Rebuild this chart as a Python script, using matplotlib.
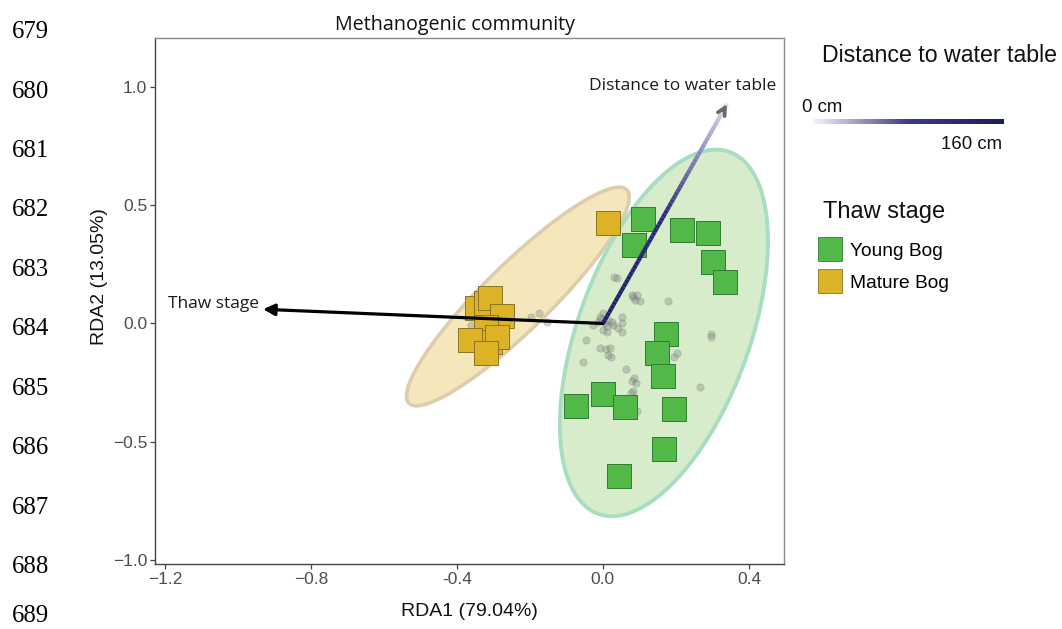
import numpy as np
import matplotlib
matplotlib.use("Agg")
import matplotlib.pyplot as plt
from matplotlib.collections import LineCollection
from matplotlib.colors import LinearSegmentedColormap
from matplotlib.lines import Line2D

# ---------------- data ----------------
young_x = [0.110, 0.085, 0.216, 0.288, 0.301, 0.334, 0.172, 0.148, 0.165,
           0.000, -0.074, 0.061, 0.196, 0.166, 0.045]
young_y = [0.442, 0.332, 0.395, 0.383, 0.260, 0.175, -0.044, -0.125, -0.222,
           -0.298, -0.349, -0.353, -0.361, -0.532, -0.644]

mature_x = [0.013, -0.346, -0.319, -0.308, -0.276, -0.319, -0.310, -0.364, -0.289, -0.321]
mature_y = [0.425, 0.067, 0.088, 0.107, 0.033, -0.013, -0.077, -0.070, -0.058, -0.123]

species_x = [0.030, 0.039, 0.079, 0.094, 0.088, 0.101, 0.083, 0.179, 0.295, 0.295,
             -0.008, 0.001, -0.013, 0.005, 0.015, 0.024, 0.051, 0.051, 0.042, 0.051,
             0.001, 0.010, 0.028, -0.027, -0.047, -0.008, 0.008, 0.019, 0.015, 0.022,
             -0.054, 0.202, 0.195, 0.062, 0.079, 0.090, 0.085, 0.083, 0.076, 0.266,
             0.094, -0.197, -0.175, -0.154, -0.362, -0.005, 0.012]
species_y = [0.198, 0.191, 0.121, 0.121, 0.099, 0.096, 0.111, 0.096, -0.046, -0.056,
             0.029, 0.043, 0.008, 0.001, 0.015, 0.008, 0.029, 0.003, -0.020, -0.035,
             -0.027, -0.035, -0.006, -0.006, -0.070, -0.105, -0.109, -0.105, -0.133, -0.140,
             -0.164, -0.126, -0.140, -0.194, -0.242, -0.250, -0.232, -0.284, -0.295, -0.267,
             -0.369, 0.029, 0.043, 0.008, -0.006, 0.020, -0.010]

# ellipse parameters: centre x, centre y, sd x, sd y, correlation
ell_young = (0.167, -0.040, 0.285, 0.775, 0.50)
ell_mature = (-0.233, 0.114, 0.305, 0.462, 0.91)

arrow_names = ["Thaw stage", "Distance to water table"]
arrow_x = [-0.931, 0.340]
arrow_y = [0.060, 0.928]

xtick_vals = [-1.2, -0.8, -0.4, 0.0, 0.4]
xtick_labels = ["\u22121.2", "\u22120.8", "-0.4", "0.0", "0.4"]
ytick_vals = [1.0, 0.5, 0.0, -0.5, -1.0]
ytick_labels = ["1.0", "0.5", "0.0", "\u22120.5", "\u22121.0"]

line_numbers = list(range(679, 690))

# ---------------- styles ----------------
GREEN = "#52b847"
GREEN_EDGE = "#2f7d32"
YELLOW = "#dcb226"
YELLOW_EDGE = "#8a7424"
NAVY = "#1e1e66"
HUM = "Open Sans"
SANS = "Liberation Sans"

fig = plt.figure(figsize=(10.62, 6.29), dpi=100)
ax = fig.add_axes([155 / 1062, 1 - 564 / 629, (784 - 155) / 1062, (564 - 38) / 629])
ax.set_xlim(-1.227, 0.496)
ax.set_ylim(-1.017, 1.207)


def ellipse_pts(p, n=300):
    cx, cy, sx, sy, r = p
    cov = np.array([[sx * sx, r * sx * sy], [r * sx * sy, sy * sy]])
    L = np.linalg.cholesky(cov)
    t = np.linspace(0, 2 * np.pi, n)
    pts = L @ np.vstack([np.cos(t), np.sin(t)])
    return pts[0] + cx, pts[1] + cy


mx, my = ellipse_pts(ell_mature)
ax.fill(mx, my, facecolor="#f5e6bc", edgecolor="none", zorder=1)
ax.plot(mx, my, color="#dccdae", lw=2.6, zorder=1.1)
gx, gy = ellipse_pts(ell_young)
ax.fill(gx, gy, facecolor="#d5ebc8", edgecolor="none", alpha=0.95, zorder=1.2)
ax.plot(gx, gy, color="#a8ddc0", lw=2.8, zorder=1.3)

ax.scatter(species_x, species_y, s=28, color="#808080", alpha=0.35,
           edgecolors="#606060", linewidths=0.4, zorder=2)

ax.scatter(young_x, young_y, marker="s", s=290, color=GREEN,
           edgecolors=GREEN_EDGE, linewidths=0.7, zorder=3, label="Young Bog")
ax.scatter(mature_x, mature_y, marker="s", s=290, color=YELLOW,
           edgecolors=YELLOW_EDGE, linewidths=0.7, zorder=3, label="Mature Bog")

# Thaw stage arrow (black)
ax.annotate("", xy=(arrow_x[0], arrow_y[0]), xytext=(0, 0),
            arrowprops=dict(arrowstyle="-|>", color="black", lw=2.3,
                            mutation_scale=17, shrinkA=0, shrinkB=0), zorder=5)
ax.text(arrow_x[0] - 0.012, arrow_y[0] + 0.004, arrow_names[0], family=HUM,
        fontsize=12.5, ha="right", va="baseline", color="#1a1a1a", zorder=6)

# Distance arrow with gradient
n = 60
tt = np.linspace(0, 1, n + 1)
segx = tt * arrow_x[1]
segy = tt * arrow_y[1]
segs = np.stack([np.column_stack([segx[:-1], segy[:-1]]),
                 np.column_stack([segx[1:], segy[1:]])], axis=1)
grad = LinearSegmentedColormap.from_list("g", [NAVY, "#2a2a7a", "#d8d6ec"])
lc = LineCollection(segs, cmap=grad, linewidths=3.0, zorder=5, capstyle="butt")
lc.set_array(tt[:-1])
ax.add_collection(lc)
ax.annotate("", xy=(arrow_x[1], arrow_y[1]),
            xytext=(arrow_x[1] * 0.97, arrow_y[1] * 0.97),
            arrowprops=dict(arrowstyle="->", color="#6a6a6a", lw=2.6,
                            mutation_scale=14, shrinkA=0, shrinkB=0), zorder=6)
ax.text(0.218, 0.987, arrow_names[1], family=HUM, fontsize=12.5,
        ha="center", va="baseline", color="#1a1a1a", zorder=6)

# axes styling
for side in ["top", "right"]:
    ax.spines[side].set_color("#8a8a8a")
for side in ["left", "bottom"]:
    ax.spines[side].set_color("#444444")
for s in ax.spines.values():
    s.set_linewidth(1.0)
ax.set_xticks(xtick_vals)
ax.set_xticklabels(xtick_labels)
ax.set_yticks(ytick_vals)
ax.set_yticklabels(ytick_labels)
ax.tick_params(axis="both", length=3.5, width=0.9, color="#444444",
               labelcolor="#4d4d4d", labelsize=12.5, pad=2)
for lab in ax.get_xticklabels() + ax.get_yticklabels():
    lab.set_family(SANS)

fig.text(469 / 1062, 1 - 611 / 629, "RDA1 (79.04%)", family=SANS, fontsize=14,
         ha="center", va="center", color="#111111")
fig.text(99 / 1062, 1 - 277 / 629, "RDA2 (13.05%)", family=SANS, fontsize=14,
         ha="center", va="center", rotation=90, color="#111111")
fig.text(455 / 1062, 1 - 30 / 629, "Methanogenic community", family=HUM,
         fontsize=14.2, ha="center", va="baseline", color="#111111")

# line numbers
for i, num in enumerate(line_numbers):
    base = min(38.3 + 59.4 * i, 622.0)
    fig.text(12 / 1062, 1 - base / 629, str(num),
             family="Liberation Serif", fontsize=17.8, ha="left", va="baseline",
             color="black")

# colour bar legend
fig.text(822 / 1062, 1 - 61.5 / 629, "Distance to water table", family=SANS,
         fontsize=16.7, ha="left", va="baseline", color="#111111")
cax = fig.add_axes([813 / 1062, 1 - 124 / 629, 191 / 1062, 4.7 / 629])
cbar_cmap = LinearSegmentedColormap.from_list("cb", ["#f4f4fa", "#3a3a8a", "#1b1b5e"])
cax.imshow(np.linspace(0, 1, 256)[None, :], aspect="auto", cmap=cbar_cmap,
           extent=[0, 160, 0, 1])
cax.set_axis_off()
fig.text(802 / 1062, 1 - 111.7 / 629, "0 cm", family=SANS, fontsize=13.4,
         ha="left", va="baseline", color="#111111")
fig.text(1002 / 1062, 1 - 149 / 629, "160 cm", family=SANS, fontsize=13.4,
         ha="right", va="baseline", color="#111111")

# thaw stage legend
fig.text(823 / 1062, 1 - 218 / 629, "Thaw stage", family=SANS, fontsize=17,
         ha="left", va="baseline", color="#111111")
handles = [Line2D([], [], marker="s", linestyle="none", markersize=17,
                  markerfacecolor=GREEN, markeredgecolor=GREEN_EDGE, markeredgewidth=0.6),
           Line2D([], [], marker="s", linestyle="none", markersize=17,
                  markerfacecolor=YELLOW, markeredgecolor=YELLOW_EDGE, markeredgewidth=0.6)]
leg = fig.legend(handles, ["Young Bog", "Mature Bog"],
                 loc="upper left", bbox_to_anchor=(820.4 / 1062, 1 - 242.5 / 629),
                 frameon=False, prop={"family": SANS, "size": 13.8},
                 handlelength=1.0, handletextpad=0.55,
                 labelspacing=0.776, borderpad=0.0, borderaxespad=0.0)

fig.savefig("out.png", dpi=100)
